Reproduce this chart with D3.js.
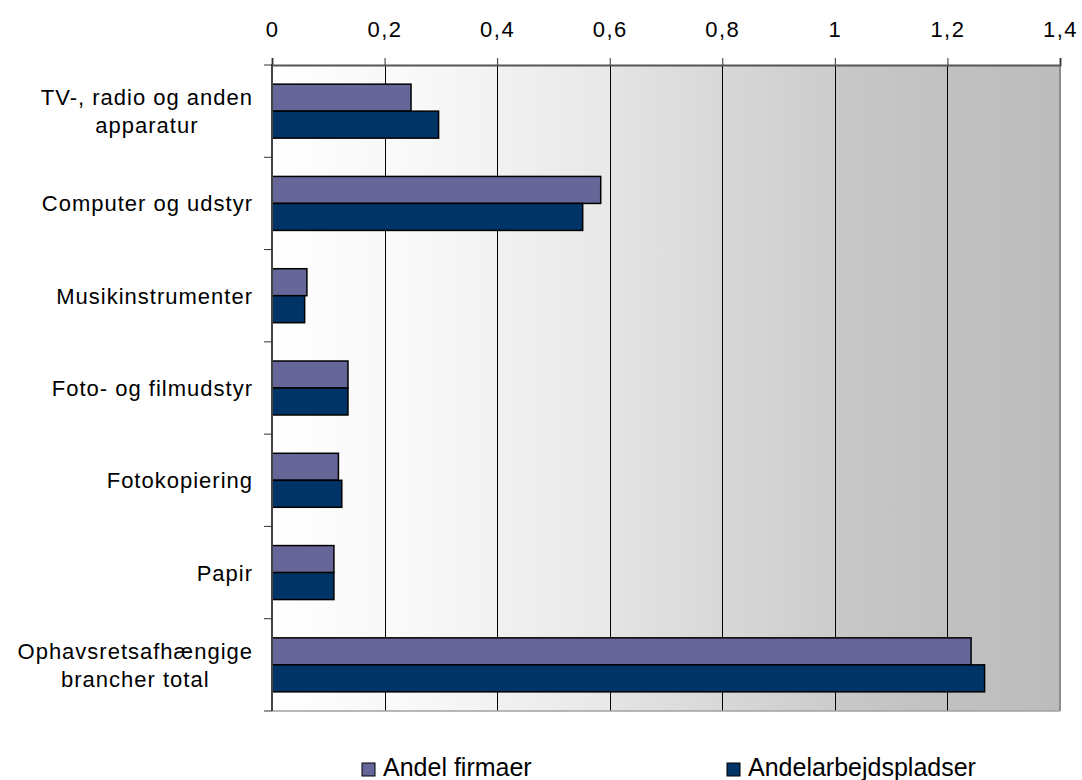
<!DOCTYPE html>
<html><head><meta charset="utf-8">
<script src="https://cdn.jsdelivr.net/npm/d3@7"></script>
<style>
body{margin:0;background:#fff;}
text{font-family:"Liberation Sans",Arial,sans-serif;fill:#000;}
</style></head>
<body><svg id="c" width="1082" height="780"></svg>
<script>
const categories = [
  ["TV-, radio og anden","apparatur"],
  ["Computer og udstyr"],
  ["Musikinstrumenter"],
  ["Foto- og filmudstyr"],
  ["Fotokopiering"],
  ["Papir"],
  ["Ophavsretsafhængige","brancher total"]
];
const seriesNames = ["Andel firmaer","Andelarbejdspladser"];
const andelFirmaer = [0.247, 0.584, 0.062, 0.135, 0.118, 0.110, 1.242];
const andelArbejdspladser = [0.296, 0.552, 0.058, 0.135, 0.124, 0.110, 1.266];
const xTicks = [0,0.2,0.4,0.6,0.8,1,1.2,1.4];
const xTickLabels = ["0","0,2","0,4","0,6","0,8","1","1,2","1,4"];
const colors = ["#666699","#003366"];
const bandColors = [["#ffffff","#f8f8f8"],["#fbfbfb","#f2f2f2"],["#f1f1f1","#e8e8e8"],["#e4e4e4","#d8d8d8"],["#d8d8d8","#cccccc"],["#c8c8c8","#c1c1c1"],["#c1c1c1","#bcbcbc"]];

const svg = d3.select("#c");
const L=272, R=1060, T=65, B=711;
const x = d3.scaleLinear().domain([0,1.4]).range([L,R]);
const keys = categories.map((c,i)=>i);
const y = d3.scaleBand().domain(keys).range([T,B]).padding(0);
const ySub = d3.scaleBand().domain(seriesNames).range([0, y.bandwidth()*0.585]);
const off = (y.bandwidth() - y.bandwidth()*0.585)/2;

// background bands with gradients
const defs = svg.append("defs");
bandColors.forEach((bc,i)=>{
  const g = defs.append("linearGradient").attr("id","g"+i).attr("x1","0").attr("x2","1").attr("y1","0").attr("y2","0");
  g.append("stop").attr("offset","0").attr("stop-color",bc[0]);
  g.append("stop").attr("offset","1").attr("stop-color",bc[1]);
  svg.append("rect").attr("x",x(xTicks[i])).attr("y",T).attr("width",x(xTicks[i+1])-x(xTicks[i])).attr("height",B-T).attr("fill","url(#g"+i+")");
});

// grid lines
svg.append("g").selectAll("line").data(xTicks.slice(1,-1)).join("line")
  .attr("x1",d=>Math.round(x(d))+0.5).attr("x2",d=>Math.round(x(d))+0.5)
  .attr("y1",T).attr("y2",B).attr("stroke","#000").attr("stroke-width",1);

// border right & bottom
svg.append("line").attr("x1",R).attr("x2",R).attr("y1",T).attr("y2",B).attr("stroke","#8c8c8c").attr("stroke-width",2);
svg.append("line").attr("x1",L).attr("x2",R).attr("y1",B).attr("y2",B).attr("stroke","#a0a0a0").attr("stroke-width",1.5);

// bars
const data = [andelFirmaer, andelArbejdspladser];
keys.forEach(i=>{
  seriesNames.forEach((s,j)=>{
    svg.append("rect")
      .attr("x",x(0)).attr("y",y(i)+off+ySub(s))
      .attr("width",x(data[j][i])-x(0)).attr("height",ySub.bandwidth())
      .attr("fill",colors[j]).attr("stroke","#000").attr("stroke-width",1.5);
  });
});

// top axis
const xAxis = d3.axisTop(x).tickValues(xTicks).tickFormat((d,i)=>xTickLabels[i]).tickSize(7).tickPadding(21);
const gx = svg.append("g").attr("transform",`translate(0,${T})`).call(xAxis);
gx.select(".domain").attr("stroke","#555").attr("stroke-width",2);
gx.selectAll(".tick line").attr("stroke","#333");
gx.selectAll("text").attr("font-size",22).style("letter-spacing","1.5px").attr("font-family","Liberation Sans, Arial, sans-serif");

// left axis line & ticks
svg.append("line").attr("x1",L).attr("x2",L).attr("y1",T-1).attr("y2",B).attr("stroke","#444").attr("stroke-width",2);
const bounds = d3.range(categories.length+1).map(i=>T+i*y.step());
svg.append("g").selectAll("line").data(bounds).join("line")
  .attr("x1",L-8).attr("x2",L).attr("y1",d=>d).attr("y2",d=>d).attr("stroke","#333").attr("stroke-width",1);

// category labels
const lh = 28;
keys.forEach(i=>{
  const lines = categories[i];
  const g = svg.append("g");
  const cy = y(i)+y.bandwidth()/2;
  const texts = lines.map((t,k)=>g.append("text").text(t)
    .attr("font-size",22).style("letter-spacing","1px")
    .attr("text-anchor","middle")
    .attr("y", cy + (k-(lines.length-1)/2)*lh + 8));
  const maxW = d3.max(texts, t=>t.node().getComputedTextLength());
  texts.forEach(t=>t.attr("x", 253 - maxW/2));
});

// legend
const legX = [362, 727];
seriesNames.forEach((s,j)=>{
  svg.append("rect").attr("x",legX[j]).attr("y",763).attr("width",13).attr("height",13)
    .attr("fill",colors[j]).attr("stroke","#000").attr("stroke-width",1);
  svg.append("text").attr("x",legX[j]+21).attr("y",776).text(s)
    .attr("font-size",25);
});
</script></body></html>
